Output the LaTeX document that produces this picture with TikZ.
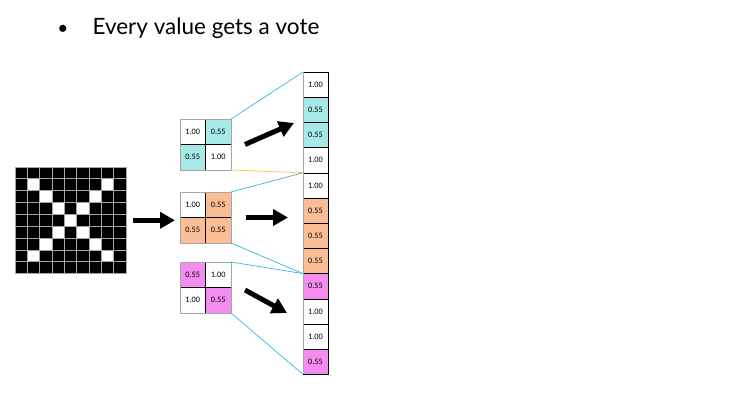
\documentclass[tikz,border=0pt]{standalone}
\usepackage{fontspec}
\newfontfamily\titlefont{Lato}
\newfontfamily\cellfont{Carlito}
\usetikzlibrary{positioning,arrows.meta,calc}
\definecolor{aquacell}{RGB}{166,233,230}
\definecolor{orangecell}{RGB}{250,190,150}
\definecolor{pinkcell}{RGB}{245,140,240}
\definecolor{linkblue}{RGB}{60,180,230}
\definecolor{linkorange}{RGB}{250,200,80}
\tikzset{>=latex,
  cell/.style={draw=black, line width=0.5pt, minimum width=25.5pt, minimum height=25.5pt,
    inner sep=0pt, outer sep=0pt, font=\cellfont\fontsize{8.3}{9}\selectfont},
  colcell/.style={cell, minimum width=25pt, minimum height=25.2pt},
  bigarrow/.style={line width=5pt, -{Triangle[length=15pt,width=16pt]}},
  link/.style={draw=linkblue, line width=0.7pt},
  gridline/.style={draw=gray!70, line width=0.8pt}
}

\begin{document}
\begin{tikzpicture}[x=1pt,y=-1pt]
    \useasboundingbox (0,0) rectangle (752,405);

    % title
    \node[anchor=base, font=\titlefont\fontsize{19}{24}\selectfont] (bullet) at (63,34) {\textbullet};
    \node[anchor=base west, font=\titlefont\fontsize{22.5}{27}\selectfont] (title) at (89,34.5) {Every value gets a vote};

    % input image
    \node[minimum width=111pt, minimum height=106.6pt, inner sep=0pt, outer sep=0pt, fill=black, anchor=north west] (grid) at (15,167) {};
    \foreach \c/\r in {1/1,7/1,2/2,6/2,3/3,5/3,4/4,3/5,5/5,2/6,6/6,1/7,7/7}
        \fill[white] ($(grid.north west)+(\c*12.333,\r*11.845)$) rectangle ++(12.333,11.845);
    \foreach \k in {0,...,9} {
        \draw[gridline] ($(grid.north west)+(\k*12.333,0)$) -- ++(0,106.6);
        \draw[gridline] ($(grid.north west)+(0,\k*11.845)$) -- ++(111,0);
    }

    % pooled blocks
    \node[cell] (t11) at (192.75,131.75) {1.00};
    \node[cell, fill=aquacell, right=0pt of t11] (t12) {0.55};
    \node[cell, fill=aquacell, below=0pt of t11] (t21) {0.55};
    \node[cell, right=0pt of t21] (t22) {1.00};

    \node[cell] (m11) at (192.75,204.75) {1.00};
    \node[cell, fill=orangecell, right=0pt of m11] (m12) {0.55};
    \node[cell, fill=orangecell, below=0pt of m11] (m21) {0.55};
    \node[cell, fill=orangecell, right=0pt of m21] (m22) {0.55};

    \node[cell, fill=pinkcell] (b11) at (192.75,274.75) {0.55};
    \node[cell, right=0pt of b11] (b12) {1.00};
    \node[cell, below=0pt of b11] (b21) {1.00};
    \node[cell, fill=pinkcell, right=0pt of b21] (b22) {0.55};

    \foreach \blk in {t,m,b}
        \draw[draw=gray!70, line width=0.8pt] (\blk11.north west) rectangle (\blk22.south east);

    % output column
    \node[colcell] (c1) at (315.5,84.6) {1.00};
    \foreach \col/\v [count=\i from 2, evaluate=\i as \p using int(\i-1)] in
        {aquacell/0.55, aquacell/0.55, white/1.00, white/1.00, orangecell/0.55, orangecell/0.55,
         orangecell/0.55, pinkcell/0.55, white/1.00, white/1.00, pinkcell/0.55}
        \node[colcell, fill=\col, below=0pt of c\p] (c\i) {\v};
    \draw[draw=gray!70, line width=0.8pt] (c1.north west) -- (c12.south west);

    % links
    \draw[link] (t12.north east) -- (c1.north west);
    \draw[draw=linkorange, line width=0.8pt] (t22.south east) -- (c4.south west);
    \draw[link] (m12.north east) -- (c5.north west);
    \draw[link] (m22.south east) -- (c8.south west);
    \draw[link] (b12.north east) -- (c9.north west);
    \draw[link] (b22.south east) -- (c12.south west);

    % arrows
    \coordinate (ttail) at ($(t12.south east)+(14,0)$);
    \coordinate (thead) at ($(c3.west)+(-9,-12)$);
    \coordinate (btail) at ($(b12.south east)+(14,2.5)$);
    \coordinate (bhead) at ($(c10.west)+(-16,1.6)$);
    \draw[bigarrow, shorten <=7pt, shorten >=5pt] (grid.east) -- (grid.east -| m11.west);
    \draw[bigarrow, shorten <=15pt, shorten >=15pt] (m12.south east) -- (m12.south east -| c1.west);
    \draw[bigarrow] (ttail) -- (thead);
    \draw[bigarrow] (btail) -- (bhead);
\end{tikzpicture}
\end{document}
